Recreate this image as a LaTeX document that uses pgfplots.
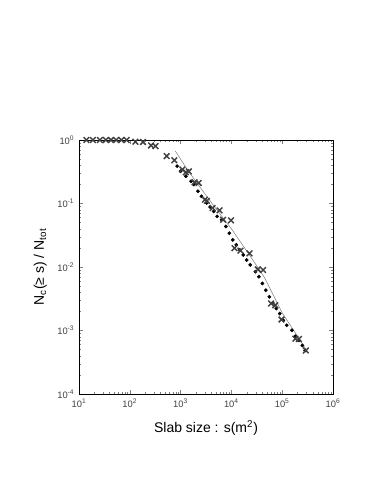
\documentclass[border=0pt]{standalone}
\usepackage{fontspec}
\setmainfont{Liberation Sans}
\usepackage{pgfplots}
\pgfplotsset{compat=1.18}
\begin{document}
\begin{tikzpicture}
\useasboundingbox (0,0) rectangle (286.5pt,370.5pt);
\begin{axis}[
    at={(59.25pt,75pt)}, anchor=south west,
    width=190.5pt, height=190.5pt, scale only axis,
    xmode=log, ymode=log,
    xmin=10, xmax=1e6, ymin=1e-4, ymax=1,
    axis line style={line width=0.5pt},
    tick align=inside, tick pos=both,
    major tick length=3pt, minor tick length=1.8pt,
    xtick={10,100,1000,10000,100000,1000000},
    xticklabels={10\textsuperscript{1},10\textsuperscript{2},10\textsuperscript{3},10\textsuperscript{4},10\textsuperscript{5},10\textsuperscript{6}},
    ytick={1e-4,1e-3,1e-2,1e-1,1},
    yticklabels={10\textsuperscript{-4},10\textsuperscript{-3},10\textsuperscript{-2},10\textsuperscript{-1},10\textsuperscript{0}},
    tick label style={font=\fontsize{7}{8}\selectfont, text=black!75},
    label style={font=\fontsize{10.5}{12}\selectfont},
    xlabel={Slab size : s(m\textsuperscript{2})},
    ylabel={N\textsubscript{c}(≥ s) / N\textsubscript{tot}},
    xlabel style={yshift=-3pt},
    ylabel style={yshift=1pt},
    clip=false,
]
% fit line
\addplot[gray, line width=0.4pt] coordinates {
(789,0.67) (1300,0.36) (2300,0.19) (4500,0.092) (10000,0.040)
(22000,0.0160) (45000,0.0068) (100000,0.0019) (316000,0.00046)};
% filled dots
\addplot[only marks, mark=*, mark size=1.2pt, black] coordinates {
(855,0.388) (1000,0.323) (1268,0.269) (1603,0.224) (1820,0.199) (2198,0.156)
(2576,0.130) (3265,0.102) (3822,0.088) (4477,0.0752) (5240,0.0627) (6430,0.0555)
(7765,0.0435) (9100,0.0341) (10650,0.0267) (12470,0.0223) (14590,0.0186)
(17100,0.0155) (20000,0.0129) (23440,0.0108) (29700,0.00844) (34750,0.00703)
(40700,0.00551) (47650,0.00432) (55800,0.00339) (65300,0.00272) (76500,0.00222)
(89550,0.00185) (105000,0.00145) (122800,0.00121) (155500,0.00101)
(182000,0.00081) (213300,0.000698) (249500,0.000582) (283000,0.000485)};
% crosses
\addplot[only marks, mark=x, mark size=3pt, black!75, line width=1.1pt] coordinates {
(14,1) (18.8,1) (25.8,1) (33.7,1) (42.7,1) (54,1) (68.5,1) (86.8,1)
(129,0.94) (182,0.93) (262,0.82) (321,0.80)
(532,0.558) (753,0.48) (1082,0.343) (1268,0.311) (1450,0.32)
(1880,0.216) (2270,0.211) (3014,0.115) (3300,0.11)
(4265,0.0849) (5850,0.078) (6850,0.0555) (9840,0.0542)
(11530,0.0198) (15070,0.0181) (22700,0.0164)
(33160,0.00918) (42000,0.00897) (60400,0.00266) (73000,0.0025)
(96800,0.00149) (182000,0.000743) (213000,0.000735) (292000,0.000485)};
\end{axis}
\end{tikzpicture}
\end{document}
